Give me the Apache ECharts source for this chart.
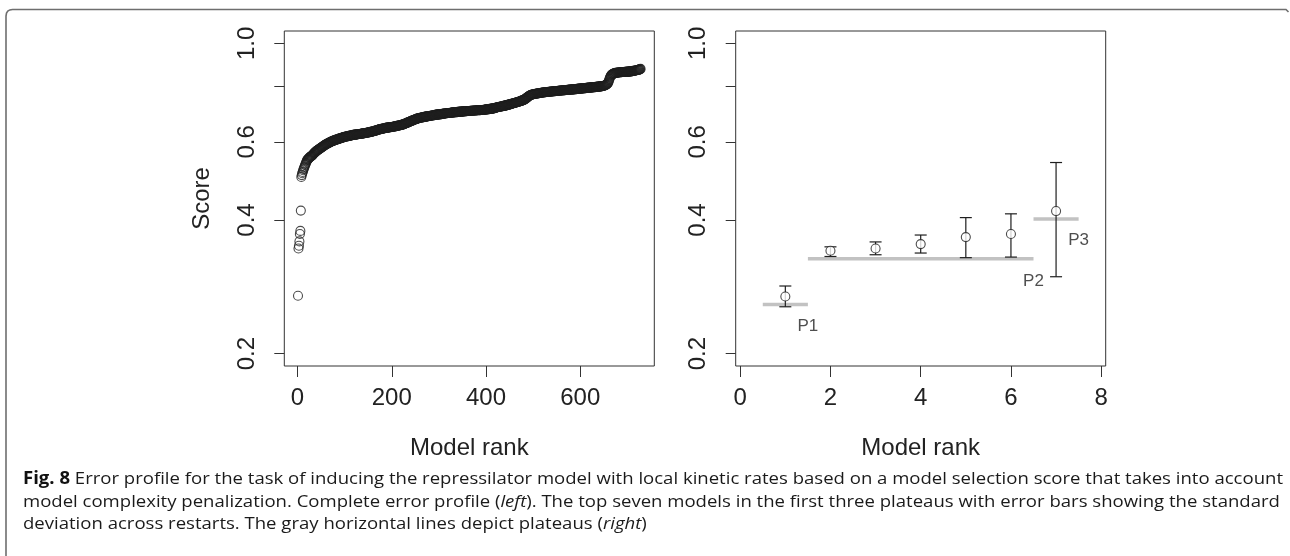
<!DOCTYPE html>
<html>
<head>
<meta charset="utf-8">
<script src="https://cdn.jsdelivr.net/npm/echarts@6/dist/echarts.min.js"></script>
<style>
html,body{margin:0;padding:0;background:#fff;}
#chart{width:1290px;height:556px;}
</style>
</head>
<body>
<div id="chart"></div>
<script>
// ---------- DATA ----------
// Left panel: complete error profile, sorted scores of 728 models (rank = index + 1)
const profileScores = [
0.270,0.345,0.350,0.358,0.372,0.378,0.420,
0.500,0.505,0.510,0.513,0.518,0.521,0.525,0.528,0.532,0.535,0.538,0.542,0.545,
0.547,0.548,0.550,0.551,0.553,0.554,0.555,0.556,0.557,0.558,0.559,0.561,0.562,0.564,0.566,0.567,0.568,0.569,0.571,0.572,
0.573,0.574,0.575,0.576,0.577,0.578,0.579,0.580,0.581,0.582,0.583,0.584,0.585,0.586,0.587,0.588,0.589,0.590,0.591,0.592,
0.593,0.593,0.594,0.595,0.596,0.597,0.597,0.598,0.599,0.600,0.600,0.601,0.602,0.602,0.603,0.603,0.604,0.605,0.605,0.606,
0.606,0.607,0.607,0.608,0.608,0.609,0.609,0.610,0.610,0.611,0.611,0.612,0.612,0.613,0.613,0.614,0.614,0.615,0.615,0.616,
0.616,0.616,0.617,0.617,0.617,0.618,0.618,0.618,0.619,0.619,0.619,0.620,0.620,0.620,0.621,0.621,0.621,0.622,0.622,0.622,
0.622,0.623,0.623,0.623,0.623,0.624,0.624,0.624,0.624,0.625,0.625,0.625,0.625,0.626,0.626,0.626,0.626,0.627,0.627,0.627,
0.627,0.628,0.628,0.628,0.628,0.629,0.629,0.629,0.630,0.630,0.630,0.631,0.631,0.631,0.632,0.632,0.632,0.633,0.633,0.633,
0.634,0.634,0.635,0.635,0.636,0.636,0.637,0.637,0.638,0.638,0.639,0.639,0.640,0.640,0.641,0.641,0.641,0.642,0.642,0.642,
0.643,0.643,0.643,0.644,0.644,0.644,0.645,0.645,0.645,0.646,0.646,0.646,0.646,0.647,0.647,0.647,0.647,0.648,0.648,0.648,
0.648,0.649,0.649,0.649,0.650,0.650,0.650,0.651,0.651,0.651,0.652,0.652,0.652,0.653,0.653,0.653,0.654,0.654,0.654,0.655,
0.655,0.656,0.656,0.657,0.657,0.658,0.659,0.659,0.660,0.661,0.661,0.662,0.663,0.663,0.664,0.665,0.665,0.666,0.667,0.668,
0.668,0.669,0.670,0.670,0.671,0.672,0.672,0.673,0.674,0.674,0.675,0.676,0.676,0.677,0.677,0.678,0.678,0.679,0.679,0.680,
0.680,0.680,0.681,0.681,0.681,0.682,0.682,0.682,0.683,0.683,0.683,0.684,0.684,0.684,0.685,0.685,0.685,0.686,0.686,0.686,
0.686,0.687,0.687,0.687,0.688,0.688,0.688,0.689,0.689,0.689,0.689,0.690,0.690,0.690,0.691,0.691,0.691,0.691,0.692,0.692,
0.692,0.692,0.693,0.693,0.693,0.693,0.694,0.694,0.694,0.694,0.695,0.695,0.695,0.695,0.696,0.696,0.696,0.696,0.697,0.697,
0.697,0.697,0.697,0.698,0.698,0.698,0.698,0.698,0.699,0.699,0.699,0.699,0.699,0.700,0.700,0.700,0.700,0.700,0.700,0.701,
0.701,0.701,0.701,0.701,0.701,0.702,0.702,0.702,0.702,0.702,0.702,0.703,0.703,0.703,0.703,0.703,0.703,0.703,0.704,0.704,
0.704,0.704,0.704,0.704,0.704,0.704,0.705,0.705,0.705,0.705,0.705,0.705,0.705,0.706,0.706,0.706,0.706,0.706,0.706,0.706,
0.707,0.707,0.707,0.707,0.707,0.707,0.707,0.707,0.708,0.708,0.708,0.708,0.708,0.708,0.709,0.709,0.709,0.709,0.709,0.710,
0.710,0.710,0.710,0.711,0.711,0.711,0.711,0.712,0.712,0.712,0.712,0.713,0.713,0.713,0.714,0.714,0.714,0.715,0.715,0.716,
0.716,0.717,0.717,0.718,0.718,0.719,0.719,0.719,0.720,0.720,0.721,0.721,0.721,0.722,0.722,0.722,0.723,0.723,0.723,0.724,
0.724,0.725,0.725,0.726,0.726,0.727,0.727,0.728,0.728,0.729,0.729,0.730,0.730,0.731,0.731,0.732,0.732,0.733,0.733,0.734,
0.734,0.735,0.735,0.736,0.737,0.737,0.738,0.738,0.739,0.739,0.740,0.741,0.741,0.742,0.742,0.743,0.744,0.744,0.745,0.746,
0.747,0.748,0.749,0.751,0.752,0.754,0.755,0.757,0.758,0.759,0.761,0.762,0.763,0.764,0.765,0.766,0.766,0.767,0.767,0.768,
0.768,0.769,0.769,0.769,0.770,0.770,0.770,0.771,0.771,0.771,0.772,0.772,0.772,0.773,0.773,0.773,0.774,0.774,0.774,0.775,
0.775,0.775,0.775,0.776,0.776,0.776,0.776,0.777,0.777,0.777,0.777,0.777,0.778,0.778,0.778,0.778,0.778,0.779,0.779,0.779,
0.779,0.779,0.780,0.780,0.780,0.780,0.780,0.781,0.781,0.781,0.781,0.781,0.782,0.782,0.782,0.782,0.782,0.783,0.783,0.783,
0.783,0.783,0.784,0.784,0.784,0.784,0.784,0.785,0.785,0.785,0.785,0.785,0.786,0.786,0.786,0.786,0.786,0.787,0.787,0.787,
0.787,0.787,0.788,0.788,0.788,0.788,0.788,0.789,0.789,0.789,0.789,0.789,0.790,0.790,0.790,0.790,0.790,0.791,0.791,0.791,
0.791,0.791,0.792,0.792,0.792,0.792,0.792,0.793,0.793,0.793,0.793,0.793,0.794,0.794,0.794,0.794,0.794,0.795,0.795,0.795,
0.795,0.795,0.796,0.796,0.796,0.796,0.796,0.797,0.797,0.797,0.797,0.797,0.798,0.798,0.798,0.798,0.798,0.799,0.799,0.799,
0.799,0.800,0.800,0.800,0.801,0.801,0.801,0.802,0.802,0.803,0.803,0.804,0.805,0.806,0.807,0.808,0.810,0.812,0.815,0.820,
0.826,0.832,0.838,0.842,0.846,0.849,0.851,0.852,0.853,0.854,0.855,0.856,0.857,0.857,0.858,0.858,0.859,0.859,0.859,0.860,
0.860,0.860,0.860,0.861,0.861,0.861,0.861,0.861,0.862,0.862,0.862,0.862,0.862,0.862,0.863,0.863,0.863,0.863,0.863,0.863,
0.864,0.864,0.864,0.864,0.865,0.865,0.865,0.865,0.866,0.866,0.866,0.867,0.867,0.867,0.868,0.868,0.869,0.869,0.870,0.870,
0.871,0.871,0.872,0.872,0.873,0.874,0.875,0.876
];

// Right panel: top seven models with error bars (std across restarts)
const topRanks  = [1, 2, 3, 4, 5, 6, 7];
const topScores = [0.269, 0.341, 0.345, 0.353, 0.366, 0.372, 0.419];
const topLow    = [0.255, 0.331, 0.334, 0.337, 0.329, 0.330, 0.298];
const topHigh   = [0.284, 0.348, 0.357, 0.370, 0.405, 0.413, 0.539];

// Plateaus (gray horizontal lines)
const plateauNames  = ['P1', 'P2', 'P3'];
const plateauStart  = [0.5, 1.5, 6.5];
const plateauEnd    = [1.5, 6.5, 7.5];
const plateauLevel  = [0.258, 0.327, 0.402];
const plateauLabelX = [1.5, 6.5, 7.5];
const plateauLabelY = [0.230, 0.291, 0.360];

// Axis ticks / labels
const leftXTicks  = [0, 200, 400, 600];
const rightXTicks = [0, 2, 4, 6, 8];
const yTicks      = [0.2, 0.4, 0.6, 0.8, 1.0];
const yTickLabels = [0.2, 0.4, 0.6, 1.0];

const xTitle = 'Model rank';
const yTitle = 'Score';

const captionLines = [
  ['{b|Fig. 8} ', 'Error profile for the task of inducing the repressilator model with local kinetic rates based on a model selection score that takes into account'],
  ['', 'model complexity penalization. Complete error profile ({i|left}). The top seven models in the first three plateaus with error bars showing the standard'],
  ['', 'deviation across restarts. The gray horizontal lines depict plateaus ({i|right})']
];

// ---------- CHART ----------
const FONT = '"Liberation Sans", Arial, Helvetica, sans-serif';
const INK = '#222';
const chart = echarts.init(document.getElementById('chart'), null, {renderer: 'canvas'});

const yMin = 0.2 * Math.exp(-0.04 * Math.log(5));
const yMax = 1.0 * Math.exp(0.04 * Math.log(5));
const nProfile = profileScores.length;
const xExt = 0.04 * (nProfile - 1);

function yAxisDef(gridIndex, withName) {
  return {
    type: 'log', logBase: 10, gridIndex: gridIndex,
    min: yMin, max: yMax,
    name: withName ? yTitle : '',
    nameLocation: 'middle', nameGap: 70,
    nameTextStyle: {fontFamily: FONT, fontSize: 24, color: INK},
    axisLine: {show: false, onZero: false},
    splitLine: {show: false},
    minorTick: {show: false},
    axisTick: {show: true, length: 10, inside: false, customValues: yTicks,
               lineStyle: {color: '#333', width: 1}},
    axisLabel: {show: true, customValues: yTickLabels, rotate: 90, margin: 25,
                fontFamily: FONT, fontSize: 24, color: INK,
                formatter: v => Number(v).toFixed(1)}
  };
}
function xAxisDef(gridIndex, min, max, ticks) {
  return {
    type: 'value', gridIndex: gridIndex, min: min, max: max,
    name: xTitle, nameLocation: 'middle', nameGap: 70,
    nameTextStyle: {fontFamily: FONT, fontSize: 24, color: INK},
    axisLine: {show: false, onZero: false},
    splitLine: {show: false},
    axisTick: {show: true, length: 11, inside: false, customValues: ticks,
               lineStyle: {color: '#333', width: 1}},
    axisLabel: {show: true, customValues: ticks, margin: 20,
                fontFamily: FONT, fontSize: 24, color: INK}
  };
}

// caption layout (condensed by horizontal scaling to fit the frame)
const mctx = document.createElement('canvas').getContext('2d');
const CAP_SIZE = 17, CAP_FONT = '"Open Sans", "Noto Sans", sans-serif';
function plainWidth(s, weight, style) {
  mctx.font = (style || 'normal') + ' ' + (weight || 'normal') + ' ' + CAP_SIZE + 'px ' + CAP_FONT;
  return mctx.measureText(s).width;
}
const line1W = plainWidth('Fig. 8', 'bold') + plainWidth(' ' + captionLines[0][1]);
const capScale = (1283 - 23) / line1W;
const captionGraphics = captionLines.map((ln, i) => ({
  type: 'text', x: 23, y: 471 + i * 22.3, scaleX: capScale,
  style: {
    text: ln[0] + ln[1],
    fontFamily: CAP_FONT, fontSize: CAP_SIZE, fill: '#1a1a1a',
    rich: {
      b: {fontWeight: 'bold', fontFamily: CAP_FONT, fontSize: CAP_SIZE, fill: '#111'},
      i: {fontStyle: 'italic', fontFamily: CAP_FONT, fontSize: CAP_SIZE, fill: '#1a1a1a'}
    }
  },
  silent: true
}));

const option = {
  backgroundColor: '#fff',
  animation: false,
  textStyle: {fontFamily: FONT},
  grid: [
    {left: 284.3, top: 31, width: 370, height: 335, show: true, borderColor: '#333', borderWidth: 1, backgroundColor: 'transparent'},
    {left: 735.7, top: 31, width: 370, height: 335, show: true, borderColor: '#333', borderWidth: 1, backgroundColor: 'transparent'}
  ],
  xAxis: [
    xAxisDef(0, 1 - xExt, nProfile + xExt, leftXTicks),
    xAxisDef(1, -0.1, 8.1, rightXTicks)
  ],
  yAxis: [yAxisDef(0, true), yAxisDef(1, false)],
  graphic: [
    {type: 'polyline',
     shape: {points: [[6, 556], [6, 16], [6.5, 13], [7.8, 11], [9.8, 9.9], [12.5, 9.5], [1286, 9.5], [1288.5, 12]]},
     style: {stroke: '#6e6e6e', lineWidth: 1.6, fill: null}, silent: true}
  ].concat(captionGraphics),
  series: [
    {
      type: 'scatter', xAxisIndex: 0, yAxisIndex: 0,
      symbol: 'circle', symbolSize: 9,
      itemStyle: {color: 'rgba(0,0,0,0)', borderColor: '#1e1e1e', borderWidth: 1.1},
      data: profileScores.map((s, i) => [i + 1, s]),
      silent: true
    },
    {
      type: 'custom', xAxisIndex: 1, yAxisIndex: 1,
      data: plateauStart.map((s, i) => [s, plateauEnd[i], plateauLevel[i]]),
      encode: {x: [0, 1], y: 2},
      renderItem: function (params, api) {
        const a = api.coord([api.value(0), api.value(2)]);
        const b = api.coord([api.value(1), api.value(2)]);
        return {type: 'line', shape: {x1: a[0], y1: a[1], x2: b[0], y2: b[1]},
                style: {stroke: '#c2c2c2', lineWidth: 3.5, lineCap: 'butt'}};
      },
      silent: true, z: 1
    },
    {
      type: 'custom', xAxisIndex: 1, yAxisIndex: 1,
      data: topRanks.map((r, i) => [r, topLow[i], topHigh[i]]),
      encode: {x: 0, y: [1, 2]},
      renderItem: function (params, api) {
        const lo = api.coord([api.value(0), api.value(1)]);
        const hi = api.coord([api.value(0), api.value(2)]);
        const c = 6;
        const st = {stroke: '#1e1e1e', lineWidth: 1.2};
        return {type: 'group', children: [
          {type: 'line', shape: {x1: lo[0], y1: lo[1], x2: hi[0], y2: hi[1]}, style: st},
          {type: 'line', shape: {x1: lo[0] - c, y1: lo[1], x2: lo[0] + c, y2: lo[1]}, style: st},
          {type: 'line', shape: {x1: hi[0] - c, y1: hi[1], x2: hi[0] + c, y2: hi[1]}, style: st}
        ]};
      },
      silent: true, z: 2
    },
    {
      type: 'scatter', xAxisIndex: 1, yAxisIndex: 1,
      symbol: 'circle', symbolSize: 9,
      itemStyle: {color: '#fff', borderColor: '#1e1e1e', borderWidth: 1.1},
      data: topRanks.map((r, i) => [r, topScores[i]]),
      silent: true, z: 3
    },
    {
      type: 'scatter', xAxisIndex: 1, yAxisIndex: 1,
      symbolSize: 1, itemStyle: {color: 'rgba(0,0,0,0)'},
      data: plateauNames.map((n, i) => ({value: [plateauLabelX[i], plateauLabelY[i]], name: n})),
      label: {show: true, position: 'inside', formatter: p => p.name,
              fontFamily: FONT, fontSize: 17, color: INK},
      silent: true, z: 4
    }
  ]
};
chart.setOption(option);
</script>
</body>
</html>
